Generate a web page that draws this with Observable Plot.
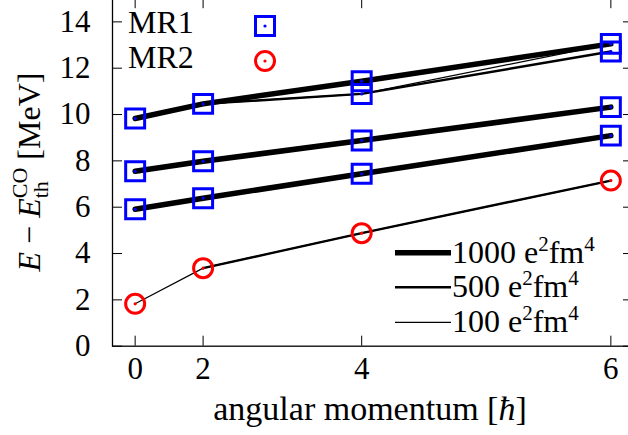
<!DOCTYPE html>
<html><head><meta charset="utf-8">
<script src="https://cdn.jsdelivr.net/npm/d3@7"></script>
<script src="https://cdn.jsdelivr.net/npm/@observablehq/plot@0.6"></script>
<style>body{margin:0;background:#fff} svg{overflow:visible}</style>
</head><body><div id="chart"></div>
<script>
// ---- data ----
const J = [0, 2, 4, 6];
const xTickLabels = ["0", "2", "4", "6"];
const yTicks = [0, 2, 4, 6, 8, 10, 12, 14];

// MR1 (squares) and MR2 (circles) reference values
const mr1J = [0, 0, 0, 2, 2, 2, 4, 4, 4, 4, 6, 6, 6, 6];
const mr1E = [9.83, 7.55, 5.91, 10.46, 7.98, 6.39, 11.44, 10.89, 8.88, 7.44, 13.05, 12.72, 10.32, 9.09];
const mr2E = [1.83, 3.37, 4.88, 7.15];

// calculated bands for three quadrupole constraints (null = not drawn)
const q1000A = [9.83, 10.46, 11.44, 13.05];
const q1000B = [7.55, 7.98, 8.88, 10.32];
const q1000C = [5.91, 6.39, 7.44, 9.09];
const q500A = [9.83, 10.46, 10.89, 12.72];
const q500B = [7.55, 7.98, 8.88, 10.32];
const q500C = [5.91, 6.39, 7.44, 9.09];
const q500D = [null, 3.37, 4.88, 7.15];
const q100A = [9.83, 10.46, 10.89, 13.05];
const q100B = [7.55, 7.98, 8.88, 10.32];
const q100C = [5.91, 6.39, 7.44, 9.09];
const q100D = [1.83, 3.37, 4.88, 7.15];

const legendLines = ["1000", "500", "100"];

// ---- helpers ----
const jj = j => j * (j + 1);           // x axis is linear in J(J+1)
function rows(arrs) {
  const out = [];
  arrs.forEach((a, k) => a.forEach((e, i) => { if (e != null) out.push({J: J[i], E: e, s: k}); }));
  return out;
}
const lines1000 = rows([q1000A, q1000B, q1000C]);
const lines500 = rows([q500A, q500B, q500C, q500D]);
const lines100 = rows([q100A, q100B, q100C, q100D]);
const mr1 = mr1J.map((j, i) => ({J: j, E: mr1E[i]}));
const mr2 = J.map((j, i) => ({J: j, E: mr2E[i]}));

const W = 628, H = 435;
const mL = 112, mR = -5, mT = -1.8, mB = 89.3;
const fw = W - mL - mR, fh = H - mT - mB;
const FONT = "Liberation Serif";
const blue = "#0000ff", red = "#ff0000";

const plot = Plot.plot({
  width: W, height: H,
  marginLeft: mL, marginRight: mR, marginTop: mT, marginBottom: mB,
  x: {domain: [-2, 44], axis: null},
  y: {domain: [0, 15], axis: null},
  style: {fontFamily: FONT, fontSize: "30px", background: "white", overflow: "visible", color: "black"},
  marks: [
    Plot.frame({stroke: "black", strokeWidth: 1.3}),
    // inward ticks
    Plot.tickY(yTicks, {y: d => d, insetRight: fw - 10, stroke: "black", strokeWidth: 1}),
    Plot.tickY(yTicks, {y: d => d, insetLeft: fw - 10, stroke: "black", strokeWidth: 1}),
    Plot.tickX(J, {x: jj, insetTop: fh - 10, stroke: "black", strokeWidth: 1}),
    Plot.tickX(J, {x: jj, insetBottom: fh - 10, stroke: "black", strokeWidth: 1}),
    // tick labels
    Plot.text(yTicks, {y: d => d, frameAnchor: "left", dx: -22, textAnchor: "end", text: d => String(d), fontSize: 31}),
    Plot.text(J, {x: jj, frameAnchor: "bottom", dy: 33, text: (d, i) => xTickLabels[i], fontSize: 31}),
    // lines
    Plot.line(lines1000, {x: d => jj(d.J), y: "E", z: "s", stroke: "black", strokeWidth: 5.5}),
    Plot.line(lines500, {x: d => jj(d.J), y: "E", z: "s", stroke: "black", strokeWidth: 2.4}),
    Plot.line(lines100, {x: d => jj(d.J), y: "E", z: "s", stroke: "black", strokeWidth: 1.2}),
    // markers
    Plot.dot(mr1, {x: d => jj(d.J), y: "E", symbol: "square", r: 10.7, stroke: blue, strokeWidth: 3, fill: "none"}),
    Plot.dot(mr1, {x: d => jj(d.J), y: "E", r: 1.6, fill: blue, stroke: "none"}),
    Plot.dot(mr2, {x: d => jj(d.J), y: "E", symbol: "circle", r: 9.5, stroke: red, strokeWidth: 3, fill: "none"}),
    Plot.dot(mr2, {x: d => jj(d.J), y: "E", r: 1.6, fill: red, stroke: "none"})
  ]
});
document.getElementById("chart").appendChild(plot);

const svg = d3.select(plot);
// y axis label
const yl = svg.append("text")
  .attr("transform", "translate(40,172) rotate(-90)")
  .attr("text-anchor", "middle")
  .attr("font-family", FONT).attr("font-size", 32).attr("fill", "black");
yl.append("tspan").attr("font-style", "italic").text("E");
yl.append("tspan").text(" \u2212 ");
yl.append("tspan").attr("font-style", "italic").text("E");
yl.append("tspan").attr("font-size", 22).attr("dy", 8).text("th");
yl.append("tspan").attr("font-size", 22).attr("dx", -17).attr("dy", -21).text("CO");
yl.append("tspan").attr("dy", 13).text(" [MeV]");

// x axis label
const xl = svg.append("text")
  .attr("x", 370).attr("y", 420).attr("text-anchor", "middle")
  .attr("font-family", FONT).attr("font-size", 34).attr("fill", "black");
xl.append("tspan").text("angular momentum [");
xl.append("tspan").attr("font-style", "italic").text("\u0127");
xl.append("tspan").text("]");

// top-left legend (MR1 / MR2)
const lg = svg.append("g").attr("font-family", FONT).attr("font-size", 32).attr("fill", "black")
  .attr("text-anchor", "start");
lg.append("text").attr("x", 128).attr("y", 33).attr("text-anchor", "start").text("MR1");
lg.append("text").attr("x", 128).attr("y", 68).attr("text-anchor", "start").text("MR2");
lg.append("rect").attr("x", 265 - 9.5).attr("y", 26 - 9.5).attr("width", 19).attr("height", 19)
  .attr("fill", "none").attr("stroke", blue).attr("stroke-width", 3);
lg.append("circle").attr("cx", 265).attr("cy", 26).attr("r", 1.6).attr("fill", blue);
lg.append("circle").attr("cx", 265).attr("cy", 61).attr("r", 9.5)
  .attr("fill", "none").attr("stroke", red).attr("stroke-width", 3);
lg.append("circle").attr("cx", 265).attr("cy", 61).attr("r", 1.6).attr("fill", red);

// bottom-right legend (line widths)
const lw = [5.5, 2.4, 1.2], ly = [252.7, 287.3, 322.3];
legendLines.forEach((lab, i) => {
  svg.append("line").attr("x1", 395).attr("x2", 451).attr("y1", ly[i]).attr("y2", ly[i])
    .attr("stroke", "black").attr("stroke-width", lw[i]);
  const t = svg.append("text").attr("x", 452).attr("y", ly[i] + 10).attr("text-anchor", "start")
    .attr("font-family", FONT).attr("font-size", 32).attr("fill", "black");
  t.append("tspan").text(lab + " e");
  t.append("tspan").attr("font-size", 21).attr("dy", -12).text("2");
  t.append("tspan").attr("dy", 12).text("fm");
  t.append("tspan").attr("font-size", 21).attr("dy", -12).text("4");
});
</script>
</body></html>
